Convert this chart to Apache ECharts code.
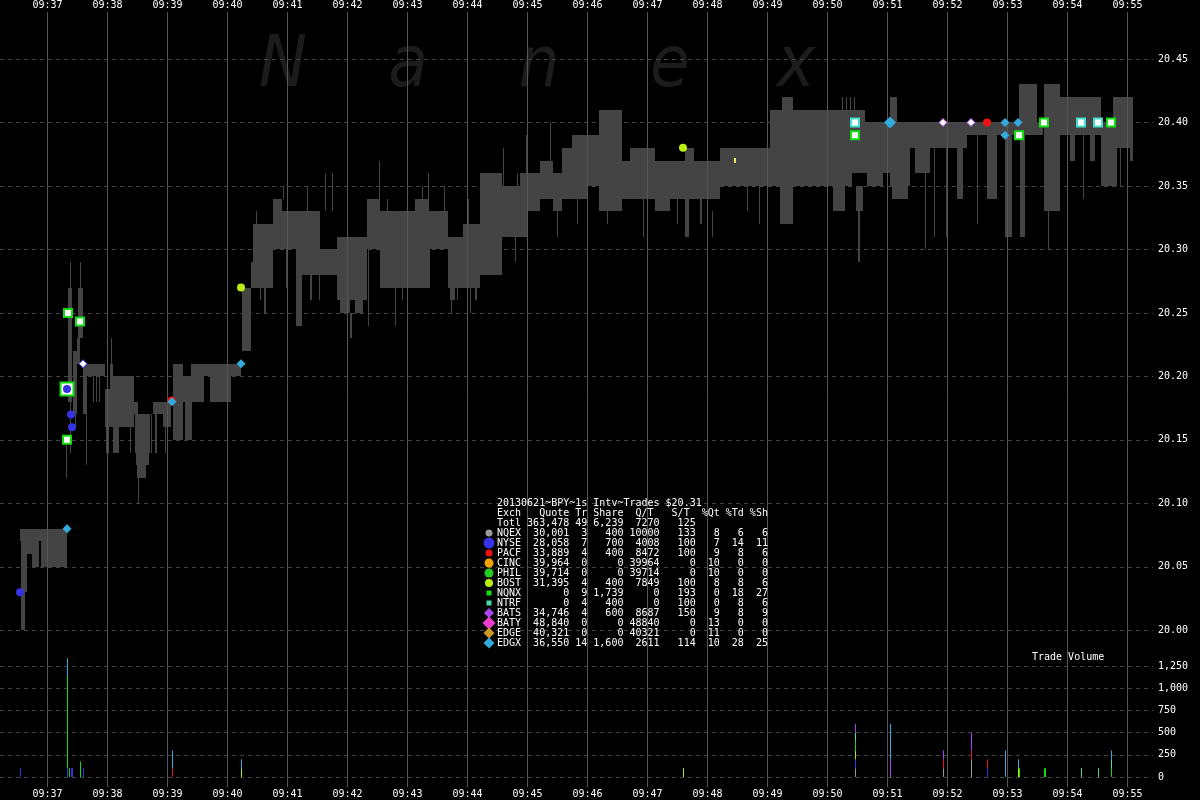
<!DOCTYPE html>
<html><head><meta charset="utf-8">
<script src="https://cdn.jsdelivr.net/npm/echarts/dist/echarts.min.js"></script>
<style>html,body{margin:0;padding:0;background:#000;}#c{width:1200px;height:800px;}</style>
</head><body><div id="c"></div>
<script>
// ---- time is seconds after 09:37:00 ----
const minuteTicks = [0,60,120,180,240,300,360,420,480,540,600,660,720,780,840,900,960,1020,1080];
const minuteTickLabels = ['09:37','09:38','09:39','09:40','09:41','09:42','09:43','09:44','09:45','09:46','09:47','09:48','09:49','09:50','09:51','09:52','09:53','09:54','09:55'];
const priceTicks = [20.00,20.05,20.10,20.15,20.20,20.25,20.30,20.35,20.40,20.45];
const volumeTicks = [0,250,500,750,1000,1250];

// NBBO quote band: [startSec, endSec, low, high]
const quoteBand = [
 [-27,20,20.07,20.08],[-26,-22,20.00,20.07],[-22,-20,20.03,20.07],[-20,-15,20.06,20.07],[-15,-8,20.05,20.07],[-6,20,20.05,20.07],
 [19,20,20.12,20.15],[21,25,20.18,20.27],[23,24,20.14,20.29],[26,30,20.17,20.22],[28,29,20.16,20.17],[30,33,20.21,20.23],
 [31,36,20.23,20.27],[33,34,20.27,20.29],[36,37,20.17,20.21],[37,58,20.20,20.21],[37,40,20.17,20.20],[39,40,20.13,20.17],
 [46,47,20.18,20.20],[49,50,20.18,20.20],[52,53,20.18,20.20],[58,63,20.16,20.19],[59,62,20.14,20.16],[63,66,20.20,20.21],
 [64,65,20.21,20.23],[63,87,20.16,20.20],[66,72,20.14,20.16],[83,84,20.14,20.16],[87,91,20.17,20.18],[88,89,20.14,20.17],
 [89,102,20.13,20.17],[90,99,20.12,20.13],[91,92,20.10,20.12],[102,103,20.14,20.17],[104,105,20.14,20.17],[106,124,20.17,20.18],
 [108,110,20.14,20.17],[116,124,20.16,20.17],[118,119,20.14,20.16],[126,136,20.15,20.21],[136,138,20.18,20.20],[138,145,20.15,20.20],
 [144,194,20.20,20.21],[144,157,20.18,20.20],[163,184,20.18,20.20],[195,204,20.22,20.27],[204,206,20.27,20.29],[206,213,20.27,20.32],
 [209,210,20.32,20.33],[211,226,20.27,20.32],[217,219,20.25,20.27],[226,235,20.30,20.34],[236,237,20.34,20.35],[235,246,20.30,20.33],
 [239,241,20.27,20.30],[246,253,20.30,20.33],[249,255,20.24,20.30],[253,273,20.30,20.33],[253,293,20.28,20.30],[263,265,20.26,20.28],
 [278,279,20.33,20.36],[285,286,20.33,20.36],[290,320,20.26,20.31],[293,303,20.25,20.26],[303,305,20.23,20.25],[320,333,20.30,20.34],
 [321,322,20.24,20.30],[332,333,20.34,20.37],[333,383,20.27,20.33],[348,349,20.24,20.27],[368,381,20.33,20.34],[381,401,20.30,20.33],
 [381,382,20.33,20.36],[401,416,20.27,20.31],[403,408,20.26,20.27],[416,433,20.27,20.32],[423,424,20.25,20.27],[433,455,20.28,20.36],
 [455,480,20.31,20.35],[456,457,20.35,20.38],[470,471,20.35,20.36],[473,493,20.33,20.36],[474,478,20.32,20.33],[479,480,20.36,20.39],
 [493,506,20.34,20.37],[503,504,20.37,20.40],[506,515,20.33,20.36],[515,525,20.34,20.38],[525,540,20.34,20.39],[540,552,20.35,20.39],
 [552,575,20.33,20.41],[575,583,20.34,20.37],[583,608,20.34,20.38],[608,623,20.33,20.37],[623,638,20.34,20.37],[638,642,20.31,20.38],
 [642,647,20.34,20.38],[647,673,20.34,20.37],[653,655,20.32,20.34],[673,723,20.35,20.38],[723,773,20.35,20.41],[733,746,20.32,20.35],
 [735,746,20.41,20.42],[773,818,20.36,20.41],[773,805,20.35,20.36],[786,798,20.33,20.35],[795,796,20.41,20.42],[799,800,20.41,20.42],
 [803,804,20.41,20.42],[807,808,20.41,20.42],[809,816,20.33,20.35],[811,813,20.29,20.33],[818,843,20.36,20.40],[820,836,20.35,20.36],
 [843,863,20.35,20.40],[845,861,20.34,20.35],[843,850,20.40,20.42],[863,896,20.38,20.40],[868,883,20.36,20.38],[878,879,20.30,20.36],
 [887,888,20.31,20.38],[899,900,20.31,20.38],[896,920,20.38,20.40],[910,916,20.34,20.38],[920,973,20.39,20.40],[930,931,20.32,20.39],
 [940,950,20.34,20.39],[958,965,20.31,20.39],[973,978,20.31,20.39],[972,990,20.39,20.43],[990,996,20.39,20.40],[997,1013,20.33,20.43],
 [1001,1002,20.30,20.33],[1013,1016,20.39,20.42],[1016,1054,20.39,20.42],[1023,1028,20.37,20.39],[1036,1037,20.34,20.39],
 [1043,1048,20.37,20.39],[1054,1066,20.35,20.40],[1058,1059,20.35,20.39],[1066,1086,20.38,20.42],[1066,1070,20.35,20.38],
 [1073,1074,20.35,20.38],[1083,1086,20.37,20.38],
 [260,261,20.32,20.35],[340,341,20.33,20.34],[375,376,20.34,20.35],[397,398,20.33,20.35],[421,422,20.32,20.34],[480,481,20.35,20.36],
 [213,214,20.26,20.28],[272,273,20.26,20.28],[308,316,20.25,20.26],[355,356,20.26,20.27],[404,405,20.25,20.27],[410,411,20.26,20.27],
 [428,430,20.26,20.27],[468,469,20.29,20.31],[510,511,20.31,20.33],[530,531,20.32,20.34],[560,561,20.32,20.34],[596,597,20.31,20.34],
 [630,631,20.32,20.34],[665,666,20.31,20.33],[700,701,20.33,20.35],[712,713,20.32,20.35]
];

// trades on the price chart: [sec, price]
const nyseTrades = [[-27,20.03],[20,20.19],[24,20.17],[25,20.16]];
const nyseHollowTrades = [[36,20.21]];
const pacfTrades = [[124.5,20.181],[940,20.40]];
const bostTrades = [[194,20.27],[636,20.38]];
const bostTick = [[688,20.37]];
const edgxTrades = [[20,20.08],[125,20.18],[194,20.21],[958,20.40],[958,20.39],[971,20.40]];
const edgxBigTrades = [[843,20.40]];
const nqnxBigTrades = [[20,20.19]];
const nqnxTrades = [[21,20.25],[33,20.2433],[20,20.15],[808,20.39],[972,20.39],[997,20.40],[1064,20.40]];
const ntrfTrades = [[808,20.40],[1034,20.40],[1051,20.40]];
const batsTrades = [[896,20.40],[924,20.40]];

// volume bars
const volTimes = [-27,20,22,24,25,33,36,125,194,636,808,843,896,924,940,958,971,972,997,998,1034,1051,1064];
const volParts = [
 [['NYSE',100]],
 [['NYSE',100],['NQNX',1040],['EDGX',200]],
 [['NQNX',100]],
 [['NYSE',100]],
 [['NYSE',100]],
 [['NQNX',175]],
 [['NYSE',100]],
 [['PACF',100],['EDGX',200]],
 [['BOST',100],['EDGX',100]],
 [['BOST',100]],
 [['NQEX',100],['NYSE',100],['BOST',100],['NQNX',100],['NTRF',100],['BATS',100]],
 [['BATS',200],['EDGX',400]],
 [['NQEX',100],['PACF',100],['BATS',100]],
 [['NQEX',200],['PACF',100],['BATS',200]],
 [['NYSE',100],['PACF',100]],
 [['EDGX',300]],
 [['BOST',100],['EDGX',100]],
 [['NQNX',100]],
 [['NQNX',100]],
 [['NQNX',100]],
 [['NTRF',100]],
 [['NTRF',100]],
 [['NQNX',100],['NTRF',100],['EDGX',100]]
];

// table
const tableTitle = '20130621~BPY~1s Intv~Trades $20.31';
const exchNames = ['NQEX','NYSE','PACF','CINC','PHIL','BOST','NQNX','NTRF','BATS','BATY','EDGE','EDGX'];
const exchColors = ['#9a9a9a','#3434e6','#ee1111','#f5a300','#22cc22','#bbee11','#11dd11','#44ddaa','#aa44ee','#ee3fcc','#cc9922','#33aadd'];
const exchShapes = ['circle','circle','circle','circle','circle','circle','square','square','diamond','diamond','diamond','diamond'];
const exchSymSize = [7,11,7,9,9,8,5,5,10,13,11,11];
const quoteCounts = [30001,28058,33889,39964,39714,31395,0,0,34746,48840,40321,36550];
const tradeCounts = [3,7,4,0,0,4,9,4,4,0,0,14];
const shareCounts = [400,700,400,0,0,400,1739,400,600,0,0,1600];
const quotesPerTrade = [10000,4008,8472,39964,39714,7849,0,0,8687,48840,40321,2611];
const sharesPerTrade = [133,100,100,0,0,100,193,100,150,0,0,114];
const pctQuotes = [8,7,9,10,10,8,0,0,9,13,11,10];
const pctTrades = [6,14,8,0,0,8,18,8,8,0,0,28];
const pctShares = [6,11,6,0,0,6,27,6,9,0,0,25];
const totalRow = ['Totl',363478,49,6239,7270,125];

const FONT = '"DejaVu Sans Mono", monospace';
const TFONT = '10px "DejaVu Sans Mono", monospace';
const colorOf = {}; exchNames.forEach((n,i)=>colorOf[n]=exchColors[i]);
const fmt = n => n.toLocaleString('en-US');

// stacked volume rects
const volRects = [];
volTimes.forEach((t,i)=>{ let base=0; volParts[i].forEach(([ex,v])=>{ volRects.push([t, base, base+v, ex]); base+=v; }); });

const XMIN=-47, XMAX=1106;
const chart = echarts.init(document.getElementById('c'), null, {renderer:'canvas'});

function hideX(grid){ return {gridIndex:grid, type:'value', min:XMIN, max:XMAX, show:false}; }

const graphics = [];
const wm = [['N',283],['a',408],['n',539],['e',670],['x',796]];
wm.forEach(([ch,x])=>graphics.push({type:'text', x:x, y:67, z:-10, silent:true,
  style:{text:ch, fill:'#1c1c1c', font:'italic 72px "DejaVu Sans Condensed", "DejaVu Sans", sans-serif', align:'center', verticalAlign:'middle', textAlign:'center', textVerticalAlign:'middle'}}));
graphics.push({type:'text', x:1032, y:657, z:20, style:{text:'Trade Volume', fill:'#fff', font:TFONT, align:'left', verticalAlign:'middle', textAlign:'left', textVerticalAlign:'middle'}});
function tline(txt, y){ graphics.push({type:'text', x:497, y:y, z:20, style:{text:txt, fill:'#fff', font:TFONT, align:'left', verticalAlign:'middle', textAlign:'left', textVerticalAlign:'middle'}}); }
tline(tableTitle, 503);
tline('Exch   Quote Tr Share  Q/T   S/T  %Qt %Td %Sh', 513);
tline(totalRow[0] + ' ' + fmt(totalRow[1]).padStart(7) + ' ' + String(totalRow[2]).padStart(2) + ' ' + fmt(totalRow[3]).padStart(5) + ' ' + String(totalRow[4]).padStart(5) + String(totalRow[5]).padStart(6), 523);
exchNames.forEach((n,i)=>{
  const y = 533 + i*10;
  const row = n + ' ' + fmt(quoteCounts[i]).padStart(7) + ' ' + String(tradeCounts[i]).padStart(2) + ' ' + fmt(shareCounts[i]).padStart(5) + ' ' +
    String(quotesPerTrade[i]).padStart(5) + String(sharesPerTrade[i]).padStart(6) + String(pctQuotes[i]).padStart(4) + String(pctTrades[i]).padStart(4) + String(pctShares[i]).padStart(4);
  tline(row, y);
  const cx = 489, s = exchSymSize[i], c = exchColors[i];
  if (exchShapes[i]==='circle') graphics.push({type:'circle', z:20, shape:{cx:cx, cy:y, r:s/2}, style:{fill:c}});
  else if (exchShapes[i]==='square') graphics.push({type:'rect', z:20, shape:{x:cx-s/2, y:y-s/2, width:s, height:s}, style:{fill:c}});
  else { const r=s/2; graphics.push({type:'polygon', z:20, shape:{points:[[cx,y-r],[cx+r,y],[cx,y+r],[cx-r,y]]}, style:{fill:c}}); }
});

function scatter(data, symbol, size, fill, border, bw, z){
  return {type:'scatter', xAxisIndex:1, yAxisIndex:1, data:data, symbol:symbol, symbolSize:size, z:z||6, silent:true,
    itemStyle:{color:fill, borderColor:border||fill, borderWidth:bw||0, opacity:1}};
}

const option = {
  backgroundColor:'#000',
  animation:false,
  grid:[
    {left:0, right:47, top:12, bottom:13},
    {left:0, right:47, top:59, bottom:169.7},
    {left:0, right:47, top:666.3, bottom:23}
  ],
  xAxis:[hideX(0), hideX(1), hideX(2)],
  yAxis:[
    {gridIndex:0, type:'value', show:false, min:0, max:1},
    {gridIndex:1, type:'value', position:'right', min:priceTicks[0], max:priceTicks[priceTicks.length-1], interval:0.05,
     axisLine:{show:false}, axisTick:{show:false},
     axisLabel:{formatter:v=>v.toFixed(2), color:'#fff', fontFamily:FONT, fontSize:10, margin:5},
     splitLine:{show:true, lineStyle:{color:'#444', type:[4,4], width:1}}},
    {gridIndex:2, type:'value', position:'right', min:volumeTicks[0], max:volumeTicks[volumeTicks.length-1], interval:250,
     axisLine:{show:false}, axisTick:{show:false},
     axisLabel:{formatter:v=>fmt(v), color:'#fff', fontFamily:FONT, fontSize:10, margin:5},
     splitLine:{show:true, lineStyle:{color:'#444', type:[4,4], width:1}}}
  ],
  graphic:{elements:graphics},
  series:[
    {type:'custom', xAxisIndex:0, yAxisIndex:0, z:3, silent:true, clip:false, data:minuteTicks.map((t,i)=>[t,i]),
     encode:{x:0},
     renderItem:function(params, api){
       const t = api.value(0);
       const a = api.coord([t, 1]);
       const b = api.coord([t, 0]);
       const x = Math.round(a[0]) + 0.5;
       const lab = minuteTickLabels[params.dataIndex];
       return {type:'group', children:[
         {type:'line', shape:{x1:x, y1:a[1], x2:x, y2:b[1]}, style:{stroke:'#555', lineWidth:1}},
         {type:'text', x:x, y:a[1]-2, style:{text:lab, fill:'#fff', font:TFONT, align:'center', verticalAlign:'bottom', textAlign:'center', textVerticalAlign:'bottom'}},
         {type:'text', x:x, y:b[1]+2, style:{text:lab, fill:'#fff', font:TFONT, align:'center', verticalAlign:'top', textAlign:'center', textVerticalAlign:'top'}}
       ]};
     }},
    {type:'custom', xAxisIndex:1, yAxisIndex:1, z:2, silent:true, data:quoteBand,
     encode:{x:[0,1], y:[2,3]},
     renderItem:function(params, api){
       const a = api.coord([api.value(0), api.value(3)]);
       const b = api.coord([api.value(1), api.value(2)]);
       const x0 = Math.round(a[0]), x1 = Math.max(Math.round(b[0]), x0+1);
       const y0 = Math.round(a[1]), y1 = Math.round(b[1]);
       return {type:'rect', shape:{x:x0, y:y0, width:x1-x0, height:y1-y0}, style:{fill:'#444'}};
     }},
    {type:'custom', xAxisIndex:2, yAxisIndex:2, z:2, silent:true, data:volRects,
     encode:{x:0, y:[1,2]},
     renderItem:function(params, api){
       const t = api.value(0);
       const a = api.coord([t, api.value(2)]);
       const b = api.coord([t+1, api.value(1)]);
       const ex = volRects[params.dataIndex][3];
       return {type:'rect', shape:{x:Math.round(a[0]), y:a[1], width:Math.max(1, Math.round(b[0])-Math.round(a[0])), height:b[1]-a[1]}, style:{fill:colorOf[ex]}};
     }},
    scatter(nqnxBigTrades, 'rect', 13, '#fff', '#11dd11', 2, 6),
    scatter(nyseTrades, 'circle', 8, colorOf['NYSE'], null, 0, 7),
    scatter(nyseHollowTrades, 'diamond', 8, '#fff', colorOf['NYSE'], 1, 7),
    scatter(pacfTrades, 'circle', 8, colorOf['PACF'], null, 0, 7),
    scatter(bostTrades, 'circle', 8, colorOf['BOST'], null, 0, 7),
    scatter(bostTick, 'rect', [2,5], '#eeee66', null, 0, 7),
    scatter(edgxTrades, 'diamond', 9, colorOf['EDGX'], null, 0, 8),
    scatter(edgxBigTrades, 'diamond', 12, colorOf['EDGX'], null, 0, 8),
    scatter(nqnxTrades, 'rect', 8, '#fff', '#11dd11', 2, 8),
    scatter(ntrfTrades, 'rect', 8, '#fff', '#44ddcc', 2, 8),
    scatter(batsTrades, 'diamond', 8, '#fff', colorOf['BATS'], 1, 8)
  ]
};
chart.setOption(option);
</script></body></html>
